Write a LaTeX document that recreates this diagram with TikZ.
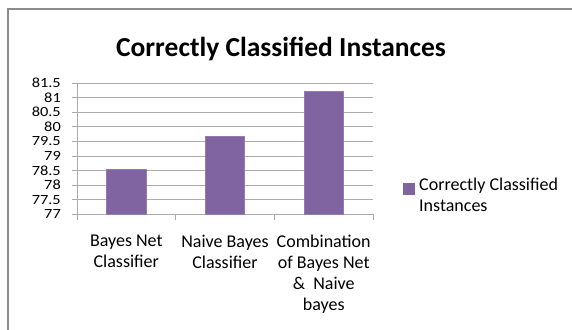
\documentclass[tikz,border=0pt]{standalone}
\usepackage{fontspec}
\setmainfont{Carlito}
\usetikzlibrary{positioning}
\definecolor{barpurple}{HTML}{8064A2}
\definecolor{gridgray}{HTML}{ABABAB}
\definecolor{framegray}{HTML}{8C8C8C}

\begin{document}
\begin{tikzpicture}[x=1pt, y=-1pt,
                    gridline/.style={draw=gridgray, line width=0.9pt},
                    bar/.style={fill=barpurple, draw=barpurple!85!white, line width=0.6pt},
                    ticklabel/.style={anchor=east, inner sep=0pt, font=\fontsize{14}{14}\selectfont},
                    catlabel/.style={anchor=north, inner sep=0pt, align=center, font=\fontsize{18}{21}\selectfont}]
\useasboundingbox (0,0) rectangle (572,329);

% frame and title
\draw[framegray, line width=1.2pt] (8,340) -- (8,9) -- (580,9);
\node[font=\bfseries\fontsize{27.5}{27.5}\selectfont] (title) at (281,49) {Correctly Classified Instances};

% grid and value axis
\foreach \v in {77,77.5,...,81.5} {
  \pgfmathsetmacro\yy{214.3-(\v-77)*29.17}
  \draw[gridline] (72,\yy) -- (373,\yy);
  \node[ticklabel] (lab\v) at (61,\yy) {\scalebox{1.17}[1]{\v}};
}
\coordinate (origin) at (77,214.3);
\coordinate (top) at (77,82.7);
\draw[gridline] (origin) -- (top);

% category ticks
\foreach \x in {77,175.7,274.3,373}
  \draw[gridline] (\x,214.3) -- (\x,219.5);

% bars
\foreach \c/\v [count=\i] in {126.3/78.55, 225/79.68, 323.7/81.23} {
  \pgfmathsetmacro\yy{214.3-(\v-77)*29.17}
  \draw[bar] (\c-19.7,214.3) rectangle (\c+19.7,\yy);
  \coordinate (bar\i) at (\c,214.3);
}

% category labels
\node[catlabel] (cat1) at (126.3,235) {Bayes Net\\Classifier};
\node[catlabel] (cat2) at (225,235) {Naive Bayes\\Classifier};
\node[catlabel] (cat3) at (323.7,235) {Combination\\of Bayes Net\\\&~ Naive\\bayes};

% legend
\fill[barpurple] (403,183) rectangle (415,195);
\node[anchor=north west, inner sep=0pt, align=left, font=\fontsize{18}{21}\selectfont] (legend) at (419,178) {Correctly Classified\\Instances};

\end{tikzpicture}
\end{document}
